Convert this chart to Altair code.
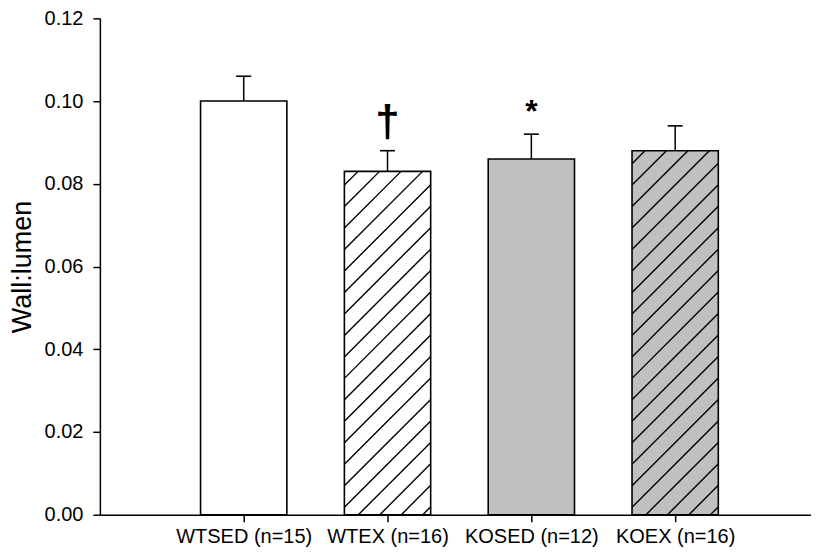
import json
import math
import altair as alt
import pandas as pd

# ---- data ----
groups = ["WTSED (n=15)", "WTEX (n=16)", "KOSED (n=12)", "KOEX (n=16)"]
means = [0.100, 0.083, 0.086, 0.088]
sems = [0.006, 0.005, 0.006, 0.006]
fills = ["#ffffff", "#ffffff", "#c0c0c0", "#c0c0c0"]
hatched = [False, True, False, True]
marks = ["", "\u2020", "*", ""]
y_ticks = [0.00, 0.02, 0.04, 0.06, 0.08, 0.10, 0.12]

# ---- layout / style ----
W, H = 712, 497
STEP_PX = 144.0
XMAX = W / STEP_PX
YMAX = 0.12
HALF = 0.3            # half bar width in band units
HATCH_PX = 21.5       # horizontal spacing of hatch lines in px
FONT = "Liberation Sans"
YTITLE = "Wall:lumen"
MARK_STYLE = {"\u2020": (44, -28), "*": (32, -22)}   # font size, dy

positions = [i + 1 for i in range(len(groups))]
df = pd.DataFrame({
    "group": groups,
    "pos": positions,
    "lo": [p - HALF for p in positions],
    "hi": [p + HALF for p in positions],
    "base": [0.0] * len(groups),
    "mean": means,
    "top": [m + s for m, s in zip(means, sems)],
    "fill": fills,
    "mark": marks,
})

# hatch segments (45 degrees in pixel space), derived from the bar rectangles
xpx = W / XMAX
ypx = H / YMAX
m = xpx / ypx                 # data-y per data-x for a 45 degree line
sp = HATCH_PX / xpx
phase = 14 / xpx
segs = []
for p, val, h in zip(positions, means, hatched):
    if not h:
        continue
    xl, xr = p - HALF, p + HALF
    run = val / m
    t = xl + phase - sp * math.ceil((run + phase) / sp)
    while t < xr:
        xs_ = max(xl, t)
        xe_ = min(xr, t + run)
        if xe_ > xs_:
            segs.append({"x1": xs_, "y1": m * (xs_ - t), "x2": xe_, "y2": m * (xe_ - t)})
        t += sp
hdf = pd.DataFrame(segs)

xscale = alt.Scale(domain=[0, XMAX], nice=False, zero=False)
yscale = alt.Scale(domain=[0, YMAX], nice=False)

label_expr = json.dumps(groups) + "[datum.value - 1]"

xaxis = alt.Axis(values=positions, labelExpr=label_expr, title=None,
                 labelFontSize=20, labelPadding=5)
yaxis = alt.Axis(values=y_ticks, format=".2f", title=YTITLE,
                 labelFontSize=20, labelPadding=10,
                 titleFontSize=27, titleFontWeight="normal", titlePadding=8)


def X(f, **kw):
    return alt.X(f, scale=xscale, title=None, **kw)


def Y(f, **kw):
    return alt.Y(f, scale=yscale, title=YTITLE, **kw)


base = alt.Chart(df)

bars = base.mark_bar(strokeWidth=0).encode(
    x=X("lo:Q", axis=xaxis),
    x2="hi:Q",
    y=Y("mean:Q", axis=yaxis),
    y2="base:Q",
    fill=alt.Fill("fill:N", scale=None),
)

hatch = alt.Chart(hdf).mark_rule(color="black", strokeWidth=1.4).encode(
    x=X("x1:Q"),
    y=Y("y1:Q"),
    x2="x2:Q",
    y2="y2:Q",
)

outline = base.mark_bar(fillOpacity=0, stroke="black", strokeWidth=1.6).encode(
    x=X("lo:Q"),
    x2="hi:Q",
    y=Y("mean:Q"),
    y2="base:Q",
)

err = base.mark_rule(color="black", strokeWidth=1.5).encode(
    x=X("pos:Q"),
    y=Y("mean:Q"),
    y2="top:Q",
)

cap = base.mark_tick(orient="horizontal", size=15, thickness=1.6, color="black", opacity=1).encode(
    x=X("pos:Q"),
    y=Y("top:Q"),
)

texts = []
for sym, (fs, dy) in MARK_STYLE.items():
    texts.append(
        base.transform_filter(alt.datum.mark == sym).mark_text(
            fontSize=fs, fontWeight="bold", baseline="middle", dy=dy,
            font=FONT, color="black").encode(
            x=X("pos:Q"),
            y=Y("top:Q"),
            text="mark:N",
        )
    )

chart = alt.layer(bars, hatch, outline, err, cap, *texts).properties(
    width=W, height=H, padding={"left": 0, "top": 0, "right": 0, "bottom": 0},
    background="white",
).configure(
    font=FONT,
    view=alt.ViewConfig(stroke=None),
    axis=alt.AxisConfig(
        grid=False, tickSize=7, tickWidth=1.5, domainWidth=1.5,
        domainColor="black", tickColor="black", labelColor="black",
        titleColor="black", labelFont=FONT, titleFont=FONT,
    ),
)

chart.save("out.html", embed_options={"renderer": "svg", "actions": False})
